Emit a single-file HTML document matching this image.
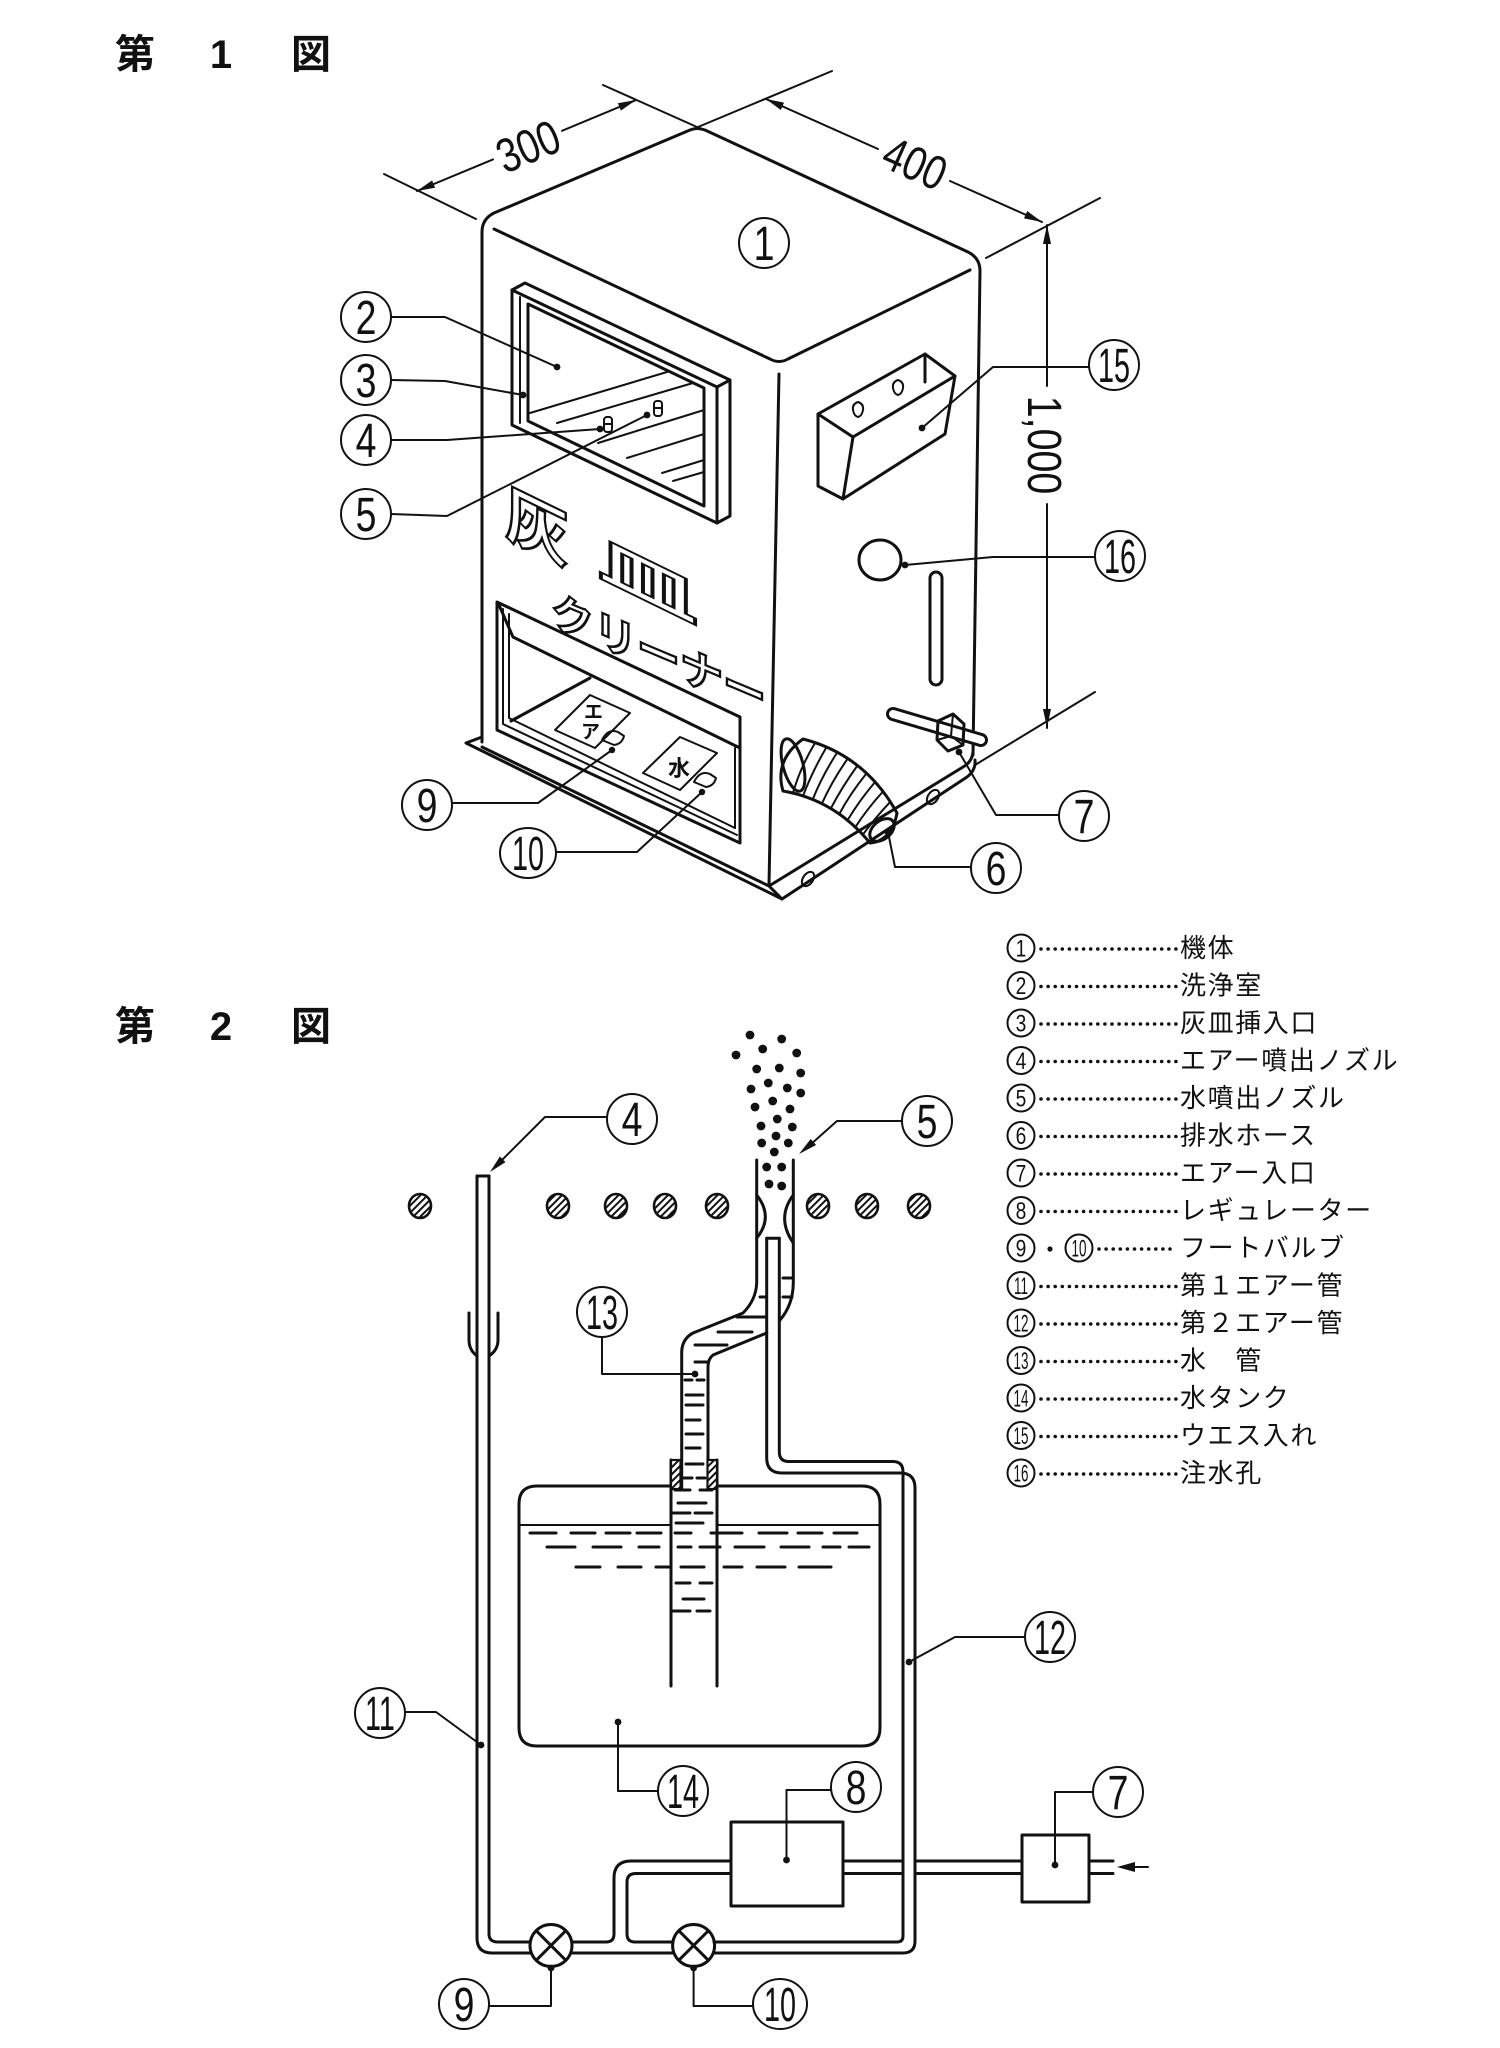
<!DOCTYPE html>
<html><head><meta charset="utf-8">
<style>
html,body{margin:0;padding:0;background:#fff;}
svg{display:block}
</style></head>
<body>
<svg width="1500" height="2048" viewBox="0 0 1500 2048" xmlns="http://www.w3.org/2000/svg">
<defs>
<pattern id="h" width="5" height="5" patternUnits="userSpaceOnUse" patternTransform="rotate(45)">
<rect width="5" height="5" fill="#fff"/><line x1="2.5" y1="0" x2="2.5" y2="5" stroke="#111" stroke-width="2"/>
</pattern>
</defs>
<style>
.l{fill:none;stroke:#111;stroke-width:3;stroke-linecap:round;stroke-linejoin:round}
.m{fill:none;stroke:#111;stroke-width:2;stroke-linecap:round;stroke-linejoin:round}
.k{fill:#111}
.cn{fill:#fff;stroke:#111;stroke-width:2}
.d{font-family:"Liberation Sans",sans-serif;font-size:48px;fill:#111;text-anchor:middle}
.s{font-family:"Liberation Sans",sans-serif;font-size:24px;fill:#111;text-anchor:middle}
.j{font-family:"Liberation Sans","Noto Sans CJK JP",sans-serif;fill:#111}
.lg{font-family:"Liberation Sans","Noto Sans CJK JP",sans-serif;font-size:26px;fill:#111;letter-spacing:1.6px}
.big{font-family:"Noto Sans CJK JP",sans-serif;font-weight:700;fill:#fff;stroke:#111;stroke-width:2.4}
.dot{fill:none;stroke:#111;stroke-width:3.6;stroke-linecap:round;stroke-dasharray:0 7.1}
</style>
<rect width="1500" height="2048" fill="#fff"/>

<!-- ===== Titles ===== -->
<text class="j" x="115" y="68" font-size="40" font-weight="700">第</text>
<text class="j" x="221" y="68" font-size="40" font-weight="700" text-anchor="middle">1</text>
<text class="j" x="291" y="68" font-size="40" font-weight="700">図</text>
<text class="j" x="115" y="1040" font-size="40" font-weight="700">第</text>
<text class="j" x="221" y="1040" font-size="40" font-weight="700" text-anchor="middle">2</text>
<text class="j" x="291" y="1040" font-size="40" font-weight="700">図</text>

<!-- ===== FIGURE 1 ===== -->
<!-- dimension 300 -->
<path class="m" d="M384,174 L476,219"/>
<path class="m" d="M603,85 L697,127"/>
<path class="m" d="M417,191 L493,159.4 M562,130.8 L636,100"/>
<polygon class="k" points="417,191 435.1,187.8 432.1,180.4"/>
<polygon class="k" points="636,100 620.9,110.6 617.9,103.2"/>
<text class="d" font-size="48" transform="translate(528,146) rotate(-22.6) scale(.8,1)" y="17">300</text>
<!-- dimension 400 -->
<path class="m" d="M698,127 L832,71"/>
<path class="m" d="M986,258 L1100,198"/>
<path class="m" d="M766,99 L878,149 M950,181 L1042,222"/>
<polygon class="k" points="766,99 780.8,109.95 784,102.65"/>
<polygon class="k" points="1042,222 1024,218.35 1027.2,211.05"/>
<text class="d" font-size="48" transform="translate(915,163) rotate(24) scale(.8,1)" y="17">400</text>
<!-- dimension 1,000 -->
<path class="m" d="M1047,225 L1047,386 M1047,504 L1047,728"/>
<path class="m" d="M975,765 L1095,692"/>
<polygon class="k" points="1047,225 1043,244 1051,244"/>
<polygon class="k" points="1047,728 1043,709 1051,709"/>
<text class="d" font-size="46" transform="translate(1044,445) rotate(90) scale(.82,1)" y="16">1,000</text>

<!-- body outline -->
<path class="l" d="M482,742 L482,232 Q482,219 494,213 L690,130 Q697,127 705,130 L968,252 Q980,258 980,271 L973,755"/>
<path class="l" d="M494,229 L770,359 Q779,364 788,359 L970,270"/>
<path class="l" d="M779,374 L769,885"/>
<!-- bottom edges & flange -->
<path class="l" d="M482,747 L769,886 L963,767 Q972,762 973,752"/>
<path class="l" d="M482,737 L466,743 L782,899 L967,777 Q976,770 975,760"/>
<path class="l" d="M769,886 L782,899"/>
<ellipse class="m" cx="808" cy="879" rx="5" ry="8" transform="rotate(35 808 879)"/>
<ellipse class="m" cx="933" cy="797" rx="5" ry="8" transform="rotate(35 933 797)"/>

<!-- upper window (washing room) -->
<path class="l" d="M512,290 L717,387 L717,523 L512,425 Z"/>
<path class="l" d="M512,290 L525,283 L730,380 L730,516 L717,523 M717,387 L730,380"/>
<path class="l" d="M528,304 L704,388 L704,506 L528,421 Z"/>
<path class="m" d="M520,297 L520,423"/>
<path class="m" d="M530,413 L667,372 M557,423 L693,383 M598,443 L704,410 M627,458 L704,434 M662,473 L704,460 M673,481 L704,472" stroke-width="2.4"/>
<rect class="m" x="604" y="417" width="8" height="15" rx="3" fill="#fff"/>
<rect class="m" x="654" y="401" width="8" height="15" rx="3" fill="#fff"/>
<path class="m" d="M604,424 L612,424 M654,408 L662,408"/>

<!-- lettering -->
<text class="big" font-size="64" transform="matrix(1,0.488,0,1,0,0)" x="505" y="288">灰</text>
<text class="big" font-size="60" transform="matrix(1.67,0.815,0,0.89,0,0)" x="358" y="319">皿</text>
<text class="big" font-size="43" transform="matrix(1,0.42,0,1,0,0)" x="551" y="393">クリーナー</text>

<!-- lower window -->
<path class="l" d="M497,602 L740,717 L740,843 L497,730 Z"/>
<path class="m" d="M503,609 L503,724 L737,835"/>
<path class="m" d="M509,614 L509,718 L735,828"/>
<path class="l" d="M499,605 L513,637 L740,748"/>
<path class="m" d="M735,748 L735,828"/>
<path class="l" d="M511,721 L590,678"/>
<!-- tags -->
<path class="m" d="M555,730 L590,695 L630,713 L595,748 Z" fill="#fff"/>
<path class="m" d="M643,773 L680,737 L717,753 L680,790 Z" fill="#fff"/>
<text class="j" x="584" y="718" font-size="19" font-weight="700">エ</text>
<text class="j" x="581" y="738" font-size="19" font-weight="700">ア</text>
<text class="j" x="668" y="776" font-size="22" font-weight="700">水</text>
<path class="m" d="M602,740 Q608,728 618,732 L624,736 Q622,744 614,745 Z" fill="#fff"/>
<path class="m" d="M694,782 Q700,770 710,774 L716,778 Q714,786 706,787 Z" fill="#fff"/>

<!-- waste cloth box 15 -->
<path class="l" d="M818,414 L925,354 L955,376 L945,434 L843,499 L818,486 Z" fill="#fff"/>
<path class="l" d="M818,414 L853,437 L955,376 M853,437 L843,499 M925,354 L925,382"/>
<path class="m" d="M858,402 q-6,2 -5,8 q1,6 5,7 q4,-1 5,-7 q1,-6 -5,-8 z"/>
<path class="m" d="M898,380 q-6,2 -5,8 q1,6 5,7 q4,-1 5,-7 q1,-6 -5,-8 z"/>

<!-- filler hole 16 & slot -->
<ellipse class="l" cx="880" cy="560" rx="21" ry="20"/>
<rect class="l" x="930" y="572" width="12" height="113" rx="6"/>

<!-- air inlet 7 -->
<path d="M893,714 L981,740" stroke="#111" stroke-width="14" stroke-linecap="round"/>
<path d="M893,714 L981,740" stroke="#fff" stroke-width="8" stroke-linecap="round"/>
<path class="l" d="M938,721 L953,714 L964,724 L963,745 L948,751 L937,740 Z" fill="#fff"/>
<path class="m" d="M953,714 L951,736 L937,740 M951,736 L963,745"/>

<!-- drain hose 6 -->
<path class="l" d="M803,739 Q865,755 897,813 Q893,836 876,842 L870,843 Q835,800 783,791 Q774,760 803,739 Z" fill="#fff"/>
<ellipse class="l" cx="793" cy="765" rx="10" ry="27" transform="rotate(-15 793 765)" fill="#fff"/>
<path class="m" d="M815,743 Q800,768 793,793 M826.6,747 Q812,772 803,796 M837.5,752 Q822,776 812.7,799.5 M847.8,758.5 Q832,781 821.9,803.6 M857.5,765.5 Q842,787 830.8,808.5 M866.6,773.3 Q850,794 839.3,814 M875.1,782 Q859,801 847.5,820.3 M883,791.5 Q867,809 855.3,827.2 M890.3,801.8 Q875,818 862.8,834.7" stroke-width="3"/>
<ellipse class="l" cx="882" cy="830" rx="14" ry="9" transform="rotate(-40 882 830)"/>

<!-- fig1 leaders -->
<path class="m" d="M391,317 L445,317 L557,367"/>
<path class="m" d="M391,380 L445,381 L523,395"/>
<path class="m" d="M391,440 L447,440 L600,429"/>
<path class="m" d="M391,514 L447,516 L647,415"/>
<path class="m" d="M922,428 L993,367 L1089,367"/>
<path class="m" d="M905,565 L993,557 L1095,557"/>
<path class="m" d="M959,752 L996,815 L1059,815"/>
<path class="m" d="M888,832 L895,867 L971,867"/>
<path class="m" d="M452,803 L538,803 L612,750"/>
<path class="m" d="M555,852 L637,852 L702,792"/>
<g class="k">
<circle cx="557" cy="367" r="3.4"/><circle cx="523" cy="395" r="3.4"/><circle cx="600" cy="429" r="3.4"/><circle cx="647" cy="415" r="3.4"/>
<circle cx="922" cy="428" r="3.4"/><circle cx="905" cy="565" r="3.4"/><circle cx="959" cy="752" r="3.4"/><circle cx="888" cy="832" r="3.4"/>
<circle cx="612" cy="750" r="3.2"/><circle cx="702" cy="792" r="3.2"/>
</g>

<!-- fig1 circled labels -->
<g transform="translate(764,243)"><circle class="cn" r="25"/><text class="d" transform="scale(.78,1)" y="17">1</text></g>
<g transform="translate(366,317)"><circle class="cn" r="25"/><text class="d" transform="scale(.78,1)" y="17">2</text></g>
<g transform="translate(366,380)"><circle class="cn" r="25"/><text class="d" transform="scale(.78,1)" y="17">3</text></g>
<g transform="translate(366,440)"><circle class="cn" r="25"/><text class="d" transform="scale(.78,1)" y="17">4</text></g>
<g transform="translate(366,514)"><circle class="cn" r="25"/><text class="d" transform="scale(.78,1)" y="17">5</text></g>
<g transform="translate(1114,365)"><circle class="cn" r="25"/><text class="d" transform="scale(.6,1)" y="17">15</text></g>
<g transform="translate(1120,556)"><circle class="cn" r="25"/><text class="d" transform="scale(.6,1)" y="17">16</text></g>
<g transform="translate(1084,816)"><circle class="cn" r="25"/><text class="d" transform="scale(.78,1)" y="17">7</text></g>
<g transform="translate(996,868)"><circle class="cn" r="25"/><text class="d" transform="scale(.78,1)" y="17">6</text></g>
<g transform="translate(427,805)"><circle class="cn" r="25"/><text class="d" transform="scale(.78,1)" y="17">9</text></g>
<g transform="translate(528,853)"><ellipse class="cn" rx="28" ry="25"/><text class="d" transform="scale(.6,1)" y="17">10</text></g>

<!-- ===== LEGEND ===== -->
<g>
<g transform="translate(1021,948)"><circle class="cn" r="13.5"/><text class="s" transform="scale(.8,1)" y="8.6">1</text></g>
<path class="dot" d="M1041,949 L1176,949"/><text class="lg" x="1180" y="957">機体</text>
<g transform="translate(1021,985.5)"><circle class="cn" r="13.5"/><text class="s" transform="scale(.8,1)" y="8.6">2</text></g>
<path class="dot" d="M1041,986.5 L1176,986.5"/><text class="lg" x="1180" y="994.5">洗浄室</text>
<g transform="translate(1021,1023)"><circle class="cn" r="13.5"/><text class="s" transform="scale(.8,1)" y="8.6">3</text></g>
<path class="dot" d="M1041,1024 L1176,1024"/><text class="lg" x="1180" y="1032">灰皿挿入口</text>
<g transform="translate(1021,1060.5)"><circle class="cn" r="13.5"/><text class="s" transform="scale(.8,1)" y="8.6">4</text></g>
<path class="dot" d="M1041,1061.5 L1176,1061.5"/><text class="lg" x="1180" y="1069.5">エアー噴出ノズル</text>
<g transform="translate(1021,1098)"><circle class="cn" r="13.5"/><text class="s" transform="scale(.8,1)" y="8.6">5</text></g>
<path class="dot" d="M1041,1099 L1176,1099"/><text class="lg" x="1180" y="1107">水噴出ノズル</text>
<g transform="translate(1021,1135.5)"><circle class="cn" r="13.5"/><text class="s" transform="scale(.8,1)" y="8.6">6</text></g>
<path class="dot" d="M1041,1136.5 L1176,1136.5"/><text class="lg" x="1180" y="1144.5">排水ホース</text>
<g transform="translate(1021,1173)"><circle class="cn" r="13.5"/><text class="s" transform="scale(.8,1)" y="8.6">7</text></g>
<path class="dot" d="M1041,1174 L1176,1174"/><text class="lg" x="1180" y="1182">エアー入口</text>
<g transform="translate(1021,1210.5)"><circle class="cn" r="13.5"/><text class="s" transform="scale(.8,1)" y="8.6">8</text></g>
<path class="dot" d="M1041,1211.5 L1176,1211.5"/><text class="lg" x="1180" y="1219.5">レギュレーター</text>
<g transform="translate(1021,1248)"><circle class="cn" r="13.5"/><text class="s" transform="scale(.8,1)" y="8.6">9</text></g>
<circle class="k" cx="1050" cy="1249" r="2.6"/>
<g transform="translate(1079,1248)"><circle class="cn" r="13.5"/><text class="s" transform="scale(.56,1)" y="8.6">10</text></g>
<path class="dot" d="M1099,1249 L1176,1249"/><text class="lg" x="1180" y="1257">フートバルブ</text>
<g transform="translate(1021,1285.5)"><circle class="cn" r="13.5"/><text class="s" transform="scale(.56,1)" y="8.6">11</text></g>
<path class="dot" d="M1041,1286.5 L1176,1286.5"/><text class="lg" x="1180" y="1294.5">第１エアー管</text>
<g transform="translate(1021,1323)"><circle class="cn" r="13.5"/><text class="s" transform="scale(.56,1)" y="8.6">12</text></g>
<path class="dot" d="M1041,1324 L1176,1324"/><text class="lg" x="1180" y="1332">第２エアー管</text>
<g transform="translate(1021,1360.5)"><circle class="cn" r="13.5"/><text class="s" transform="scale(.56,1)" y="8.6">13</text></g>
<path class="dot" d="M1041,1361.5 L1176,1361.5"/><text class="lg" x="1180" y="1369.5">水　管</text>
<g transform="translate(1021,1398)"><circle class="cn" r="13.5"/><text class="s" transform="scale(.56,1)" y="8.6">14</text></g>
<path class="dot" d="M1041,1399 L1176,1399"/><text class="lg" x="1180" y="1407">水タンク</text>
<g transform="translate(1021,1435.5)"><circle class="cn" r="13.5"/><text class="s" transform="scale(.56,1)" y="8.6">15</text></g>
<path class="dot" d="M1041,1436.5 L1176,1436.5"/><text class="lg" x="1180" y="1444.5">ウエス入れ</text>
<g transform="translate(1021,1473)"><circle class="cn" r="13.5"/><text class="s" transform="scale(.56,1)" y="8.6">16</text></g>
<path class="dot" d="M1041,1474 L1176,1474"/><text class="lg" x="1180" y="1482">注水孔</text>
</g>

<!-- ===== FIGURE 2 ===== -->
<!-- hatched ashtray row -->
<g stroke="#111" stroke-width="2.6" fill="url(#h)">
<ellipse cx="420" cy="1206" rx="11" ry="12"/>
<ellipse cx="558" cy="1206" rx="11" ry="12"/>
<ellipse cx="616" cy="1206" rx="11" ry="12"/>
<ellipse cx="665" cy="1206" rx="11" ry="12"/>
<ellipse cx="717" cy="1206" rx="11" ry="12"/>
<ellipse cx="818" cy="1206" rx="11" ry="12"/>
<ellipse cx="867" cy="1206" rx="11" ry="12"/>
<ellipse cx="919" cy="1206" rx="11" ry="12"/>
</g>

<!-- spray dots -->
<g class="k">
<circle cx="750" cy="1035" r="4.4"/><circle cx="781.7" cy="1039" r="4.4"/><circle cx="736" cy="1055" r="4.4"/><circle cx="762.7" cy="1049" r="4.4"/><circle cx="796.7" cy="1053" r="4.4"/>
<circle cx="756.7" cy="1069" r="4.4"/><circle cx="779.3" cy="1068" r="4.4"/><circle cx="800.7" cy="1073" r="4.4"/><circle cx="751" cy="1089" r="4.4"/><circle cx="768.3" cy="1083" r="4.4"/>
<circle cx="787.3" cy="1088" r="4.4"/><circle cx="800.7" cy="1093" r="4.4"/><circle cx="755" cy="1107" r="4.4"/><circle cx="772.7" cy="1101" r="4.4"/><circle cx="790" cy="1109" r="4.4"/>
<circle cx="777.3" cy="1119" r="4.4"/><circle cx="761" cy="1126" r="4.4"/><circle cx="792.3" cy="1127" r="4.4"/><circle cx="776" cy="1136" r="4.4"/><circle cx="761.7" cy="1143" r="4.4"/>
<circle cx="788.3" cy="1143" r="4.4"/><circle cx="774.3" cy="1152" r="4.4"/><circle cx="766.7" cy="1167" r="4.4"/><circle cx="781.7" cy="1167" r="4.4"/><circle cx="769" cy="1184" r="4.4"/><circle cx="781.7" cy="1186" r="4.4"/>
</g>

<!-- air nozzle 4 / pipe 11 -->
<path class="l" d="M477,1176 L489,1176"/>
<path class="l" d="M469,1313 L469,1340 Q469,1350 477,1356 M498,1313 L498,1340 Q498,1350 489,1356"/>
<path class="l" d="M477,1176 L477,1938 Q477,1953 492,1953 L531,1953"/>
<path class="l" d="M489,1176 L489,1934 Q489,1942 498,1942 L530,1942"/>

<!-- nozzle 5 -->
<path class="l" d="M756.7,1160 L756.7,1283 Q756,1300 743,1313 L693,1333 Q682,1339 681.7,1352 L681.7,1489"/>
<path class="l" d="M793.3,1160 L793.3,1283 Q793,1305 780,1320"/>
<path class="l" d="M766.7,1333 L713,1355 Q708,1359 708,1367 L708,1489"/>
<path class="l" d="M756.7,1195 Q774,1217 756.7,1238 M793.3,1195 Q776,1218 793.3,1243"/>

<!-- air pipe 12 -->
<path class="l" d="M766.7,1238.3 L779.3,1238.3"/>
<path class="l" d="M766.7,1238.3 L766.7,1458 Q766.7,1473 782,1473 L900,1473 Q915,1473 915,1488 L915,1941 Q915,1953 903,1953 L714,1953"/>
<path class="l" d="M779.3,1238.3 L779.3,1452 Q779.3,1461.5 789,1461.5 L893,1461.5 Q903,1461.5 903,1472 L903,1936 Q903,1942 897,1942 L714,1942"/>
<path class="l" d="M571,1953 L673,1953"/>
<path class="l" d="M572,1942 L606,1942 Q614,1942 614,1934 L614,1878 Q614,1861 631,1861 L731,1861"/>
<path class="l" d="M673,1942 L635,1942 Q627,1942 627,1934 L627,1882 Q627,1873.5 636,1873.5 L731,1873.5"/>
<path class="l" d="M843,1861 L903,1861 M843,1873.5 L903,1873.5 M915,1861 L1022,1861 M915,1873.5 L1022,1873.5 M1089,1861 L1113,1861 M1089,1873.5 L1113,1873.5"/>

<!-- valves -->
<circle class="l" cx="551" cy="1945.5" r="21" fill="#fff"/>
<path class="l" d="M536.2,1930.7 L565.8,1960.3 M565.8,1930.7 L536.2,1960.3"/>
<circle class="l" cx="693.6" cy="1945.5" r="21" fill="#fff"/>
<path class="l" d="M678.8,1930.7 L708.4,1960.3 M708.4,1930.7 L678.8,1960.3"/>

<!-- regulator 8 & inlet 7 boxes -->
<rect class="l" x="731" y="1822" width="112" height="84"/>
<rect class="l" x="1022" y="1835" width="67" height="67"/>
<path class="m" d="M1148,1867 L1130,1867"/>
<polygon class="k" points="1117,1867 1135,1862 1135,1872"/>

<!-- tank 14 -->
<path class="l" d="M671,1486 L537,1486 Q519,1486 519,1504 L519,1728 Q519,1746 537,1746 L862,1746 Q880,1746 880,1728 L880,1504 Q880,1486 862,1486 L717,1486"/>
<path class="m" d="M519,1525 L671,1525 M717,1525 L880,1525" stroke-width="2.2"/>
<path class="l" d="M671,1460 L671,1686 M717,1460 L717,1686"/>
<rect x="671" y="1460" width="9.5" height="29" fill="url(#h)" stroke="#111" stroke-width="2.2"/>
<rect x="707.5" y="1460" width="9.5" height="29" fill="url(#h)" stroke="#111" stroke-width="2.2"/>

<!-- water dashes -->
<g class="l" stroke-width="3" stroke-linecap="butt">
<path d="M530,1533 L556,1533 M571,1533 L595,1533 M606,1533 L630,1533 M637,1533 L661,1533 M675,1533 L691,1533 M711,1533 L742,1533 M759,1533 L787,1533 M798,1533 L822,1533 M834,1533 L857,1533"/>
<path d="M547,1547 L575,1547 M593,1547 L621,1547 M639,1547 L659,1547 M678,1547 L691,1547 M700,1547 L720,1547 M735,1547 L764,1547 M781,1547 L809,1547 M823,1547 L840,1547 M849,1547 L869,1547"/>
<path d="M576,1567 L600,1567 M618,1567 L641,1567 M656,1567 L670,1567 M681,1567 L704,1567 M724,1567 L742,1567 M757,1567 L785,1567 M799,1567 L831,1567"/>
<path d="M675,1490 L690,1490 M700,1490 L712,1490 M678,1503 L706,1503 M673,1513 L690,1513 M695,1513 L712,1513 M676,1523 L703,1523 M676,1583 L690,1583 M700,1583 L712,1583 M683,1599 L704,1599 M673,1611 L690,1611 M697,1611 L710,1611"/>
<path d="M686,1395 L703,1395 M686,1405 L703,1405 M686,1420 L700,1420 M686,1434 L703,1434 M686,1448 L700,1448 M686,1464 L703,1464 M684,1478 L692,1478 M697,1478 L705,1478"/>
<path d="M783,1278 L793,1278 M760,1297 L765,1297 M783,1297 L792,1297 M737,1317 L765,1317 M718,1332 L752,1332 M695,1345 L727,1345 M695,1362 L707,1362 M685,1380 L692,1380 M697,1380 L704,1380"/>
</g>

<!-- fig2 leaders -->
<path class="m" d="M607,1117 L545,1117 L500,1162"/>
<polygon class="k" points="490,1172 505.5,1162.1 499.9,1156.5"/>
<path class="m" d="M902,1121 L837,1121 L810,1145"/>
<polygon class="k" points="799,1154 816.1,1145 810.7,1139"/>
<path class="m" d="M602,1338 L602,1374 L695,1374"/>
<path class="m" d="M618,1722 L618,1791 L658,1791"/>
<path class="m" d="M405,1712 L436,1712 L481,1745"/>
<path class="m" d="M1025,1637 L955,1637 L909,1662"/>
<path class="m" d="M786.5,1860 L786.5,1790 L831,1790"/>
<path class="m" d="M1055,1865 L1055,1792 L1093,1792"/>
<path class="m" d="M551,1966 L551,2006 L489,2006"/>
<path class="m" d="M693.6,1966 L693.6,2006 L752,2006"/>
<g class="k">
<circle cx="695" cy="1374" r="3.4"/><circle cx="618" cy="1722" r="3.4"/><circle cx="481" cy="1745" r="3.4"/><circle cx="909" cy="1662" r="3.4"/>
<circle cx="786.5" cy="1860" r="3.4"/><circle cx="1055" cy="1865" r="3.4"/><circle cx="551" cy="1968" r="3.4"/><circle cx="693.6" cy="1968" r="3.4"/>
</g>

<!-- fig2 circled labels -->
<g transform="translate(632,1119)"><circle class="cn" r="25"/><text class="d" transform="scale(.78,1)" y="17">4</text></g>
<g transform="translate(927,1121)"><circle class="cn" r="25"/><text class="d" transform="scale(.78,1)" y="17">5</text></g>
<g transform="translate(602,1312)"><circle class="cn" r="25"/><text class="d" transform="scale(.6,1)" y="17">13</text></g>
<g transform="translate(1050,1637)"><circle class="cn" r="25"/><text class="d" transform="scale(.6,1)" y="17">12</text></g>
<g transform="translate(380,1713)"><circle class="cn" r="25"/><text class="d" transform="scale(.6,1)" y="17">11</text></g>
<g transform="translate(683,1791)"><circle class="cn" r="25"/><text class="d" transform="scale(.6,1)" y="17">14</text></g>
<g transform="translate(856,1787)"><circle class="cn" r="25"/><text class="d" transform="scale(.78,1)" y="17">8</text></g>
<g transform="translate(1118,1792)"><circle class="cn" r="25"/><text class="d" transform="scale(.78,1)" y="17">7</text></g>
<g transform="translate(464,2004)"><circle class="cn" r="25"/><text class="d" transform="scale(.78,1)" y="17">9</text></g>
<g transform="translate(780,2004)"><ellipse class="cn" rx="27" ry="25"/><text class="d" transform="scale(.6,1)" y="17">10</text></g>

</svg>
</body></html>
